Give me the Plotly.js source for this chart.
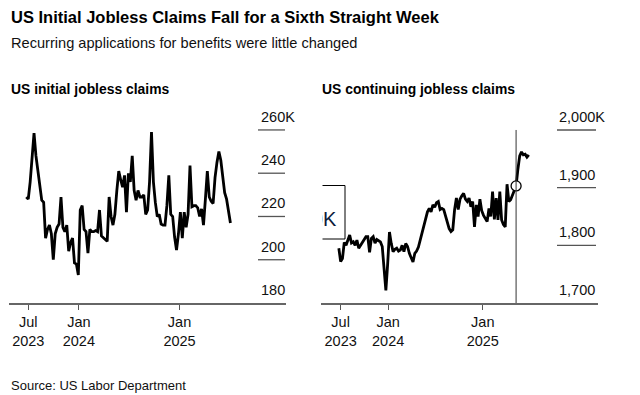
<!DOCTYPE html>
<html>
<head>
<meta charset="utf-8">
<script src="https://cdn.plot.ly/plotly-3.0.1.min.js"></script>
<style>html,body{margin:0;padding:0;background:#fff;}#chart{width:640px;height:395px;}</style>
</head>
<body>
<div id="chart"></div>
<script>
// ---- DATA ----
var initialStart = '2023-06-24';   // week ending dates, weekly
var initialClaims = [229,228,236,248,258.5,248,241,234,227.5,226.5,210,214,216,212,200,212,215,216.5,229,215,213,216,204,208,210,198.5,198,193,223,225,214,213,203,214,213,213,213.5,213,223,211,210,209,208.5,229,220,216,221,232,241,237,233.5,239,222,240,236,248,232,227.5,232,229,229,230,221,223,236,259,236,226.5,220,221,216.5,216,216,225,239,221,220,210.5,204.5,212,222,210,222,215,221,243.5,224.5,225,225,224,220,223.5,216,228,241,229,227,226,238,245,250,246,237,231,228,222,217];
var continuingStart = '2023-06-24';
var continuingClaims = [1795,1772,1777,1805,1800,1810,1818,1804,1806,1800,1809,1795,1800,1806,1810,1815,1815,1788,1812,1815,1804,1810,1808,1806,1798,1763,1722,1768,1823,1803,1789,1793,1795,1790,1792,1800,1789,1803,1798,1786,1778,1771,1786,1790,1797,1809,1822,1832,1844,1858,1864,1858,1870,1866,1874,1876,1862,1864,1862,1850,1838,1829,1824,1827,1862,1882,1862,1880,1886,1890,1880,1876,1882,1867,1876,1832,1870,1850,1880,1860,1852,1846,1841,1864,1850,1893,1845,1882,1844,1893,1844,1836,1832,1906,1876,1879,1886,1894,1903,1932,1955,1962,1957,1958,1953,1957];
var hoverIndex = 98;
var xTickVals = ['2023-07-01','2024-01-01','2025-01-01'];
var xTickText = ['Jul<br>2023','Jan<br>2024','Jan<br>2025'];
var initialTicks = [180,200,220,240,260];
var continuingTicks = [1700,1800,1900,2000];
var continuingTickText = ['1,700','1,800','1,900','2,000K'];

function weekly(start, n){
  var out=[], d=new Date(start+'T00:00:00Z');
  for(var i=0;i<n;i++){ var t=new Date(d.getTime()+i*7*86400000); out.push(t.toISOString().slice(0,10)); }
  return out;
}
var initialDates = weekly(initialStart, initialClaims.length);
var continuingDates = weekly(continuingStart, continuingClaims.length);

// ---- LAYOUT helpers ----
var W=640,H=395;
function px(x){return x/W;}
function py(y){return 1-y/H;}
var FONT='Arial, "Liberation Sans", Helvetica, sans-serif';

var traces = [
  {x:initialDates, y:initialClaims, xaxis:'x', yaxis:'y', type:'scatter', mode:'lines',
   line:{color:'#000', width:2.8}, hoverinfo:'skip'},
  {x:continuingDates, y:continuingClaims, xaxis:'x2', yaxis:'y2', type:'scatter', mode:'lines',
   line:{color:'#000', width:2.8}, hoverinfo:'skip'},
  {x:[continuingDates[hoverIndex]], y:[continuingClaims[hoverIndex]], xaxis:'x2', yaxis:'y2', type:'scatter', mode:'markers',
   marker:{size:10, color:'#fff', line:{color:'#000', width:1.3}}, hoverinfo:'skip', cliponaxis:false}
];

var shapes = [], annotations = [];
// left y ticks
initialTicks.forEach(function(v,i){
  if(i>0) shapes.push({type:'line', xref:'paper', yref:'y', x0:px(258), x1:px(285), y0:v, y1:v, line:{color:'#555', width:1.3}});
  annotations.push({xref:'paper', yref:'y', x:px(259), y:v, yshift:13, xanchor:'left', yanchor:'middle', showarrow:false,
    text: v + (i===initialTicks.length-1?'K':''), font:{family:FONT, size:14.5, color:'#111'}});
});
continuingTicks.forEach(function(v,i){
  if(i>0) shapes.push({type:'line', xref:'paper', yref:'y2', x0:px(557), x1:px(596), y0:v, y1:v, line:{color:'#555', width:1.3}});
  annotations.push({xref:'paper', yref:'y2', x:px(557), y:v, yshift:13, xanchor:'left', yanchor:'middle', showarrow:false,
    text: continuingTickText[i], font:{family:FONT, size:14.5, color:'#111'}});
});
// hover line
shapes.push({type:'line', xref:'x2', yref:'y2', x0:continuingDates[hoverIndex], x1:continuingDates[hoverIndex], y0:1700, y1:2000, line:{color:'#333', width:1}});
// tooltip box remnant
shapes.push({type:'line', xref:'paper', yref:'paper', x0:px(321), x1:px(345), y0:py(185.5), y1:py(185.5), line:{color:'#000', width:1}});
shapes.push({type:'line', xref:'paper', yref:'paper', x0:px(321), x1:px(345), y0:py(239), y1:py(239), line:{color:'#000', width:1}});
shapes.push({type:'line', xref:'paper', yref:'paper', x0:px(345), x1:px(345), y0:py(185.5), y1:py(239), line:{color:'#000', width:1}});
annotations.push({xref:'paper', yref:'paper', x:px(339), y:py(219), xanchor:'right', yanchor:'middle', showarrow:false,
  text:'0K', font:{family:FONT, size:20, color:'#0b1b3a'}});
annotations.push({xref:'paper', yref:'paper', x:px(288), y:py(212), xanchor:'left', yanchor:'middle', showarrow:false,
  text:' ', width:33, height:70, bgcolor:'#fff', borderpad:0});

// titles
annotations.push({xref:'paper', yref:'paper', x:px(9), y:py(17), xanchor:'left', yanchor:'middle', showarrow:false,
  text:'<b>US Initial Jobless Claims Fall for a Sixth Straight Week</b>', font:{family:FONT, size:16.5, color:'#000'}});
annotations.push({xref:'paper', yref:'paper', x:px(9), y:py(43), xanchor:'left', yanchor:'middle', showarrow:false,
  text:'Recurring applications for benefits were little changed', font:{family:FONT, size:14.6, color:'#111'}});
annotations.push({xref:'paper', yref:'paper', x:px(9), y:py(89), xanchor:'left', yanchor:'middle', showarrow:false,
  text:'<b>US initial jobless claims</b>', font:{family:FONT, size:13.9, color:'#000'}});
annotations.push({xref:'paper', yref:'paper', x:px(320), y:py(89), xanchor:'left', yanchor:'middle', showarrow:false,
  text:'<b>US continuing jobless claims</b>', font:{family:FONT, size:13.9, color:'#000'}});
annotations.push({xref:'paper', yref:'paper', x:px(9), y:py(385), xanchor:'left', yanchor:'middle', showarrow:false,
  text:'Source: US Labor Department', font:{family:FONT, size:13, color:'#111'}});

var xBase = {type:'date', tickvals:xTickVals, ticktext:xTickText, ticks:'outside', ticklen:5, tickwidth:1.2, tickcolor:'#555',
  showline:true, linecolor:'#666', linewidth:1.5, showgrid:false, zeroline:false, fixedrange:true,
  tickfont:{family:FONT, size:14.5, color:'#111'}};
var yBase = {showgrid:false, zeroline:false, showticklabels:false, ticks:'', showline:false, fixedrange:true};

var layout = {
  width:W, height:H, margin:{l:0,r:0,t:0,b:0}, paper_bgcolor:'#fff', plot_bgcolor:'rgba(0,0,0,0)',
  showlegend:false, font:{family:FONT},
  xaxis: Object.assign({}, xBase, {domain:[px(9), px(286)], range:['2023-04-22','2026-01-23'], anchor:'y'}),
  yaxis: Object.assign({}, yBase, {domain:[py(303), py(120)], range:[180, 264.6], anchor:'x'}),
  xaxis2: Object.assign({}, xBase, {domain:[px(321), px(598)], range:['2023-04-16','2026-03-23'], anchor:'y2'}),
  yaxis2: Object.assign({}, yBase, {domain:[py(303), py(120)], range:[1700, 2017.3], anchor:'x2'}),
  shapes: shapes, annotations: annotations
};
Plotly.newPlot('chart', traces, layout, {displayModeBar:false, staticPlot:true});
</script>
</body>
</html>
